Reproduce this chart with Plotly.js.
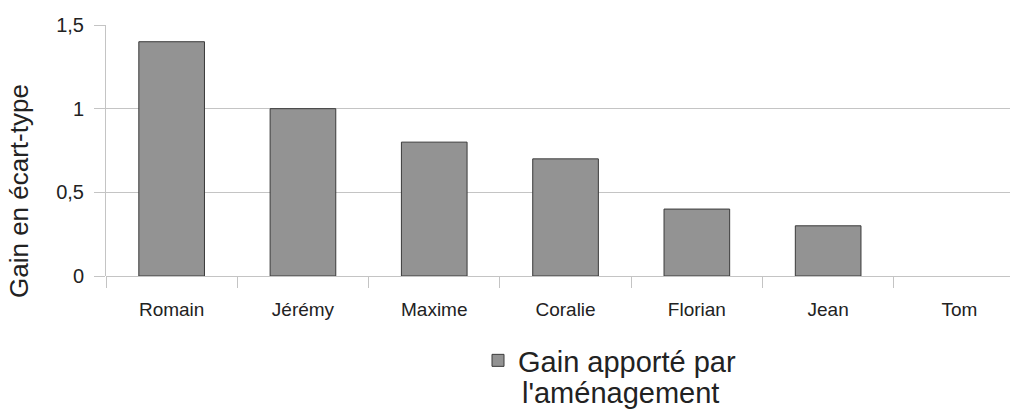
<!DOCTYPE html>
<html>
<head>
<meta charset="utf-8">
<script src="https://cdn.plot.ly/plotly-3.0.1.min.js"></script>
<style>html,body{margin:0;padding:0;background:#fff;}</style>
</head>
<body>
<div id="chart" style="width:1011px;height:412px;"></div>
<script>
const categories = ["Romain", "Jérémy", "Maxime", "Coralie", "Florian", "Jean", "Tom"];
const gainValues = [1.4, 1.0, 0.8, 0.7, 0.4, 0.3, 0];
const seriesNameLine1 = "Gain apporté par";
const seriesNameLine2 = "l'aménagement";
const yTickVals = [0, 0.5, 1, 1.5];
const yTickText = ["0", "0,5", "1", "1,5"];
const yAxisTitle = "Gain en écart-type";

const trace = {
  type: "bar",
  x: categories,
  y: gainValues,
  name: seriesNameLine1,
  marker: {
    color: "#939393",
    line: { color: "#3a3a3a", width: gainValues.map(v => (v === 0 ? 0 : 1)) }
  },
  showlegend: true
};

const layout = {
  width: 1011,
  height: 412,
  margin: { l: 106, r: 1, t: 25, b: 136 },
  paper_bgcolor: "#ffffff",
  plot_bgcolor: "#ffffff",
  font: { family: "Liberation Sans, Arial, sans-serif", color: "#222222", size: 19 },
  bargap: 0.5,
  showlegend: true,
  xaxis: {
    type: "category",
    range: [-0.5, 6.385],
    tickson: "boundaries",
    ticks: "outside",
    ticklen: 11,
    tickcolor: "#c4c4c4",
    tickwidth: 1,
    showgrid: false,
    showline: false,
    zeroline: false,
    tickfont: { size: 19, color: "#222222" },
    ticklabelstandoff: 20
  },
  yaxis: {
    range: [0, 1.5],
    tickvals: yTickVals,
    ticktext: yTickText,
    ticks: "outside",
    ticklen: 11,
    tickcolor: "#c4c4c4",
    showgrid: true,
    gridcolor: "#c4c4c4",
    gridwidth: 1,
    showline: true,
    linecolor: "#c4c4c4",
    linewidth: 1,
    zeroline: true,
    zerolinecolor: "#c4c4c4",
    tickfont: { size: 20, color: "#222222" },
    ticklabelstandoff: 6
  },
  legend: {
    x: (478 - 106) / 904,
    xanchor: "left",
    y: -(335 - 276) / 251,
    yanchor: "top",
    orientation: "v",
    font: { size: 29, color: "#222222" },
    bgcolor: "rgba(0,0,0,0)",
    itemwidth: 30
  },
  annotations: [
    {
      text: seriesNameLine2,
      xref: "paper",
      yref: "paper",
      x: (520 - 106) / 904,
      xanchor: "left",
      y: -(411 - 276) / 251,
      yanchor: "bottom",
      showarrow: false,
      font: { size: 29, color: "#222222" }
    },
    {
      text: yAxisTitle,
      xref: "paper",
      yref: "paper",
      x: (19 - 106) / 904,
      xanchor: "center",
      y: (276 - 191) / 251,
      yanchor: "middle",
      textangle: -90,
      showarrow: false,
      font: { size: 26, color: "#222222" }
    }
  ]
};

Plotly.newPlot("chart", [trace], layout, { staticPlot: true, displayModeBar: false });
</script>
</body>
</html>
